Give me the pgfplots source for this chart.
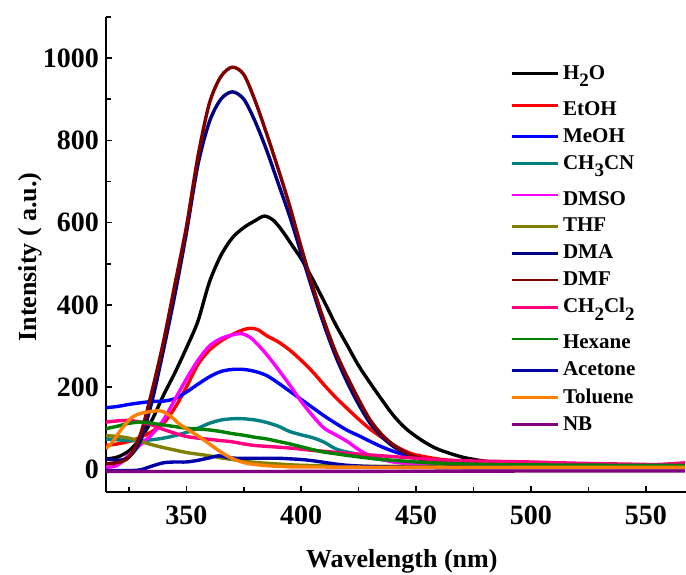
\documentclass[border=0pt]{standalone}
\usepackage{pgfplots}
\pgfplotsset{compat=1.18}
\usepackage{fontspec}
\setmainfont{Liberation Serif}

\definecolor{cdarkcyan}{RGB}{0,128,128}
\definecolor{cmagenta}{RGB}{255,0,255}
\definecolor{colive}{RGB}{128,128,0}
\definecolor{cnavy}{RGB}{0,0,128}
\definecolor{cwine}{RGB}{128,0,0}
\definecolor{cpink}{RGB}{255,0,128}
\definecolor{cgreen}{RGB}{0,128,0}
\definecolor{croyal}{RGB}{0,0,170}
\definecolor{corange}{RGB}{255,128,0}
\definecolor{cpurple}{RGB}{128,0,128}
\definecolor{cred}{RGB}{255,0,0}
\definecolor{cblue}{RGB}{0,0,255}

% lowered subscript, as in the reference legend
\newcommand{\sub}[1]{\raisebox{-3.6pt}{\fontsize{9.5}{9.5}\selectfont #1}}
% taller entry: leaves the extra room that follows a subscripted row
\newcommand{\gap}{\rule{0pt}{11.5pt}}

\begin{document}
\begin{tikzpicture}
\path[use as bounding box] (-53pt,-41pt) rectangle (290pt,246pt);
\begin{axis}[
  at={(0,0)}, anchor=south west,
  scale only axis, width=290pt, height=237.5pt,
  xmin=315, xmax=567.5, ymin=-55, ymax=1100,
  axis lines=left, axis line style={-, line width=1pt},
  xtick={350,400,450,500,550}, minor xtick={325,375,...,575},
  ytick={0,200,...,1000}, minor ytick={100,300,...,1100},
  tick align=inside, major tick length=3pt, minor tick length=2.5pt,
  every tick/.style={black, line width=0.8pt},
  /pgf/number format/assume math mode=true,
  /pgf/number format/1000 sep={},
  ticklabel style={font=\bfseries\fontsize{14}{14}\selectfont},
  xticklabel style={yshift=-3.5pt},
  xlabel={Wavelength (nm)}, ylabel={Intensity ( a.u.)},
  label style={font=\bfseries\fontsize{13}{13}\selectfont},
  xlabel style={at={(axis description cs:0.51,-0.145)}, anchor=center},
  ylabel style={at={(axis description cs:-0.131,0.495)}, anchor=center},
  every axis plot/.append style={line width=1.7pt, smooth},
  legend image code/.code={\draw[#1, line width=1.4pt] (0pt,0pt) -- (23pt,0pt);},
  legend style={draw=none, fill=none, at={(axis description cs:0.686,0.916)}, anchor=north west,
    font=\bfseries\fontsize{10.5}{10.5}\selectfont, row sep=1pt},
  legend cell align=left,
]
% H2O
\addplot[black] coordinates {(315,25) (320,30) (325,45) (330,75) (335,120) (340,180) (345,235) (350,295) (355,360) (360,455) (365,520) (370,563) (375,588) (380,605) (384,616) (388,605) (392,578) (396,545) (400,512) (405,462) (410,408) (415,352) (420,302) (425,252) (430,210) (435,170) (440,132) (445,102) (450,80) (455,62) (460,48) (470,30) (480,20) (490,15) (500,12) (520,10) (540,9) (567,8)};
% EtOH
\addplot[cred] coordinates {(315,58) (320,62) (325,68) (330,78) (335,92) (340,112) (345,150) (350,200) (355,255) (360,290) (365,312) (370,328) (375,340) (378,343) (381,340) (385,325) (390,310) (395,290) (400,265) (405,237) (410,205) (415,175) (420,148) (425,122) (430,98) (435,78) (440,60) (445,45) (450,35) (460,25) (470,20) (480,18) (490,17) (500,15) (520,13) (540,11) (567,10)};
% MeOH
\addplot[cblue] coordinates {(315,150) (320,153) (325,158) (330,162) (335,165) (340,166) (345,172) (350,188) (355,207) (360,225) (365,238) (370,243) (375,243) (380,238) (385,228) (390,210) (395,190) (400,170) (405,150) (410,130) (415,112) (420,95) (425,82) (430,68) (435,55) (440,44) (445,35) (450,27) (460,18) (470,14) (480,12) (500,10) (540,8) (567,8)};
% CH3CN
\addplot[cdarkcyan] coordinates {(315,74) (320,72) (325,70) (330,70) (335,72) (340,76) (345,82) (350,90) (355,100) (360,112) (365,120) (370,123) (375,123) (380,120) (385,114) (390,105) (395,92) (400,84) (405,77) (410,66) (415,50) (420,42) (425,36) (430,28) (440,20) (450,15) (470,12) (500,10) (540,9) (567,9)};
% DMSO
\addplot[cmagenta] coordinates {(315,5) (320,10) (325,35) (330,60) (335,85) (340,120) (345,170) (350,220) (355,265) (360,300) (365,318) (370,327) (374,330) (378,320) (382,298) (386,272) (390,243) (395,205) (400,165) (405,130) (410,100) (415,84) (420,68) (425,48) (430,33) (435,25) (440,18) (450,12) (460,9) (480,7) (500,6) (540,5) (567,5)};
% THF
\addplot[colive] coordinates {(315,82) (320,80) (325,76) (330,68) (335,60) (340,53) (345,47) (350,41) (355,37) (360,33) (365,28) (370,24) (375,20) (380,17) (390,13) (400,10) (420,8) (450,7) (500,6) (567,6)};
% DMA
\addplot[cnavy] coordinates {(315,26) (320,22) (325,30) (330,70) (335,165) (340,290) (345,425) (350,575) (355,740) (360,845) (365,900) (370,918) (375,900) (380,845) (385,775) (390,695) (395,615) (400,525) (405,435) (410,350) (415,275) (420,212) (425,158) (430,112) (435,80) (440,56) (445,40) (450,28) (460,16) (470,11) (480,9) (500,8) (540,7) (567,7)};
% DMF
\addplot[cwine] coordinates {(315,14) (320,16) (325,30) (330,85) (335,190) (340,310) (345,450) (350,590) (355,760) (360,890) (365,955) (370,978) (375,960) (380,895) (385,815) (390,730) (395,640) (400,540) (405,445) (410,360) (415,285) (420,225) (425,170) (430,120) (435,85) (440,60) (445,42) (450,30) (460,17) (470,12) (480,10) (500,8) (540,7) (567,7)};
% CH2Cl2
\addplot[cpink] coordinates {(315,115) (320,118) (325,119) (330,115) (335,108) (340,97) (345,88) (350,80) (355,76) (360,73) (365,70) (370,67) (375,62) (380,58) (385,56) (390,54) (395,52) (400,49) (405,46) (410,44) (420,39) (430,35) (440,31) (450,27) (460,23) (470,21) (480,20) (490,19) (500,18) (520,15) (540,13) (555,12) (567,16)};
% Hexane
\addplot[cgreen] coordinates {(315,99) (320,105) (325,112) (330,115) (335,112) (340,108) (345,104) (350,100) (355,98) (360,96) (365,92) (370,87) (375,83) (380,78) (385,74) (390,68) (395,62) (400,55) (405,48) (410,42) (415,38) (420,34) (430,27) (440,22) (450,18) (460,15) (480,12) (500,11) (540,10) (567,10)};
% Acetone
\addplot[croyal] coordinates {(315,-3) (320,-3) (325,-3) (330,-1) (335,8) (340,16) (345,18) (350,18) (355,22) (360,28) (364,33) (368,29) (372,27) (380,27) (390,27) (400,24) (405,21) (410,17) (415,13) (420,10) (430,7) (450,5) (500,4) (567,4)};
% Toluene
\addplot[corange] coordinates {(315,50) (318,68) (322,100) (326,125) (330,136) (335,141) (339,142) (343,130) (347,110) (352,92) (356,78) (360,62) (364,46) (368,32) (372,22) (377,14) (385,9) (392,7) (400,6) (450,5) (567,5)};
% NB
\addplot[cpurple] coordinates {(315,-5) (400,-5) (500,-4) (567,-4)};
\legend{H\sub{2}O, \gap EtOH, MeOH, CH\sub{3}CN, \gap DMSO, THF, DMA, DMF, CH\sub{2}Cl\sub{2}, \gap Hexane, Acetone, Toluene, NB}
\end{axis}
\end{tikzpicture}
\end{document}
